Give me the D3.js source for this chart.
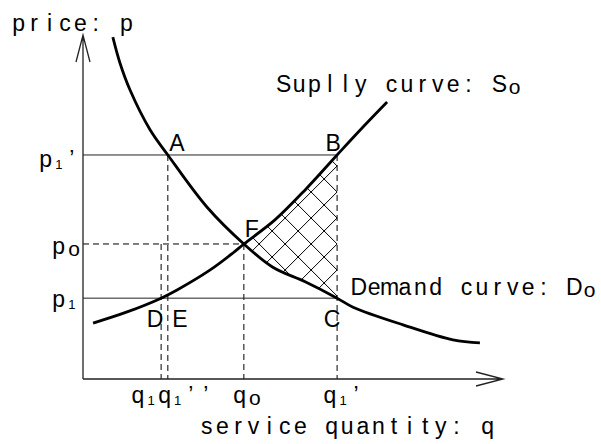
<!DOCTYPE html>
<html>
<head>
<meta charset="utf-8">
<script src="https://cdn.jsdelivr.net/npm/d3@7"></script>
<style>
body{margin:0;background:#fff}
text{font-family:"Liberation Sans",Arial,sans-serif;white-space:pre;fill:#000}
</style>
</head>
<body>
<div id="chart"></div>
<script>
const width = 601, height = 444;

// key quantities: q1, q1'', q0, q1'
const qKeys = [1.86, 2.02, 3.83, 6.05];
const qLabels = ["q_1", "q_1’’", "q_o", "q_1’"];
// key prices: p1, p0, p1'
const pKeys = [1.88, 3.14, 5.21];
const pLabels = ["p_1", "p_o", "p_1’"];

// curves as [q, p]
const demand = [[0.71,7.95],[0.88,7.35],[1.12,6.72],[1.60,5.79],[2.02,5.21],[2.95,4.00],
  [3.83,3.14],[4.52,2.60],[5.29,2.26],[6.05,1.88],[6.43,1.67],[7.62,1.26],[8.81,0.91],[9.45,0.84]];
const supply = [[0.24,1.30],[1.05,1.56],[1.86,1.88],[2.24,2.07],[3.02,2.53],[3.57,2.93],
  [3.83,3.14],[4.57,3.70],[5.31,4.42],[6.05,5.21],[6.60,5.79],[7.24,6.44]];

const svg = d3.select("#chart").append("svg")
    .attr("width", width)
    .attr("height", height);

const x = d3.scaleLinear().domain([0,10]).range([83,503]);
const y = d3.scaleLinear().domain([0,8]).range([379,35]);

const line = d3.line()
    .x(d => x(d[0]))
    .y(d => y(d[1]))
    .curve(d3.curveCatmullRom.alpha(0.5));

// monospaced-looking label: every glyph centred in its own cell, "_" = subscript
function label(str, x0, base, adv){
  adv = adv || 15.4;
  const t = svg.append("text").attr("text-anchor","middle").attr("font-size",23);
  let pos = x0;
  for (let i = 0; i < str.length; i++){
    let ch = str[i], sub = false;
    if (ch === "_"){ sub = true; ch = str[++i]; }
    const a = ch === "’" ? 15 : (sub && ch !== "o" ? 11 : adv);
    t.append("tspan")
      .attr("x", pos + a/2)
      .attr("y", base + (sub ? 2 : 0))
      .attr("font-size", sub ? (ch === "o" ? 21 : 13) : 23)
      .text(ch);
    pos += a;
  }
  return t;
}

// hatch + clip regions
const defs = svg.append("defs");
const T = 26;
const pat = defs.append("pattern")
    .attr("id","hatch")
    .attr("patternUnits","userSpaceOnUse")
    .attr("width",T).attr("height",T)
    .attr("x", x(qKeys[3])).attr("y", 192);
pat.append("path")
    .attr("d", `M0,0L${T},${T}M0,${T}L${T},0`)
    .style("stroke","#000")
    .style("stroke-width","1px");

const sPath = line(supply), dPath = line(demand);
const s0 = supply[0], sl = supply[supply.length-1];
const d0 = demand[0], dl = demand[demand.length-1];
defs.append("clipPath").attr("id","belowS").append("path")
    .attr("d", sPath + `L${x(sl[0])},${y(0)}L${x(s0[0])},${y(0)}Z`);
defs.append("clipPath").attr("id","aboveD").append("path")
    .attr("d", dPath + `L${x(dl[0])},${y(8)}L${x(d0[0])},${y(8)}Z`);

svg.append("g")
    .attr("clip-path","url(#belowS)")
  .append("rect")
    .attr("clip-path","url(#aboveD)")
    .attr("x", x(qKeys[2]))
    .attr("y", y(pKeys[2]) - 5)
    .attr("width", x(qKeys[3]) - x(qKeys[2]))
    .attr("height", y(pKeys[0]) - y(pKeys[2]) + 10)
    .style("fill","url(#hatch)");

// dashed guides
const dashed = [
  [qKeys[0], pKeys[1], qKeys[0], 0],
  [qKeys[1], pKeys[2], qKeys[1], 0],
  [qKeys[2], pKeys[1], qKeys[2], 0],
  [qKeys[3], pKeys[2], qKeys[3], 0],
  [0, pKeys[1], qKeys[2], pKeys[1]]
];
svg.append("g").selectAll("line").data(dashed).join("line")
    .attr("x1", d => x(d[0])).attr("y1", d => y(d[1]))
    .attr("x2", d => x(d[2])).attr("y2", d => y(d[3]))
    .style("stroke","#000")
    .style("stroke-width","1px")
    .style("stroke-dasharray","6,4");

// solid price lines p1' and p1
svg.append("g").selectAll("line").data([pKeys[2], pKeys[0]]).join("line")
    .attr("x1", x(0)).attr("x2", x(qKeys[3]))
    .attr("y1", d => y(d)).attr("y2", d => y(d))
    .style("stroke","#222")
    .style("stroke-width","1px");

// axes with open arrow heads
svg.append("path")
    .attr("d", `M${x(0)},${y(0)}L${x(0)},${y(8)}M${x(0)-7},${y(8)+27}L${x(0)},${y(8)}L${x(0)+7},${y(8)+27}`
      + `M${x(0)},${y(0)}L${x(10)},${y(0)}M${x(10)-27},${y(0)-7}L${x(10)},${y(0)}L${x(10)-27},${y(0)+7}`)
    .style("fill","none")
    .style("stroke","#222")
    .style("stroke-width","1.3px");

// curves
svg.append("path").attr("d", dPath)
    .style("fill","none").style("stroke","#000").style("stroke-width","2.8px");
svg.append("path").attr("d", sPath)
    .style("fill","none").style("stroke","#000").style("stroke-width","2.8px");

// texts
label("price: p", 11, 31);
label("Suplly curve: S_o", 276, 92);
label("Demand curve: D_o", 351, 295);
label("service quantity: q", 199, 434, 15.6);

const pOff = [[-32, 9], [-32, 10], [-45, 12]];
pLabels.forEach((s, i) => label(s, x(0) + pOff[i][0], y(pKeys[i]) + pOff[i][1]));
const qOff = [-31, -11, -12, -15];
qLabels.forEach((s, i) => label(s, x(qKeys[i]) + qOff[i], 403));

const pts = [
  ["A", x(qKeys[1]) + 9,  y(pKeys[2]) - 4],
  ["B", x(qKeys[3]) - 4,  y(pKeys[2]) - 4],
  ["F", x(qKeys[2]) + 8,  y(pKeys[1]) - 7],
  ["D", x(qKeys[0]) - 6,  y(pKeys[0]) + 29],
  ["E", x(qKeys[1]) + 12, y(pKeys[0]) + 29],
  ["C", x(qKeys[3]) - 5,  y(pKeys[0]) + 29]
];
svg.append("g").selectAll("text").data(pts).join("text")
    .attr("x", d => d[1]).attr("y", d => d[2])
    .attr("text-anchor","middle")
    .attr("font-size",23)
    .text(d => d[0]);
</script>
</body>
</html>
